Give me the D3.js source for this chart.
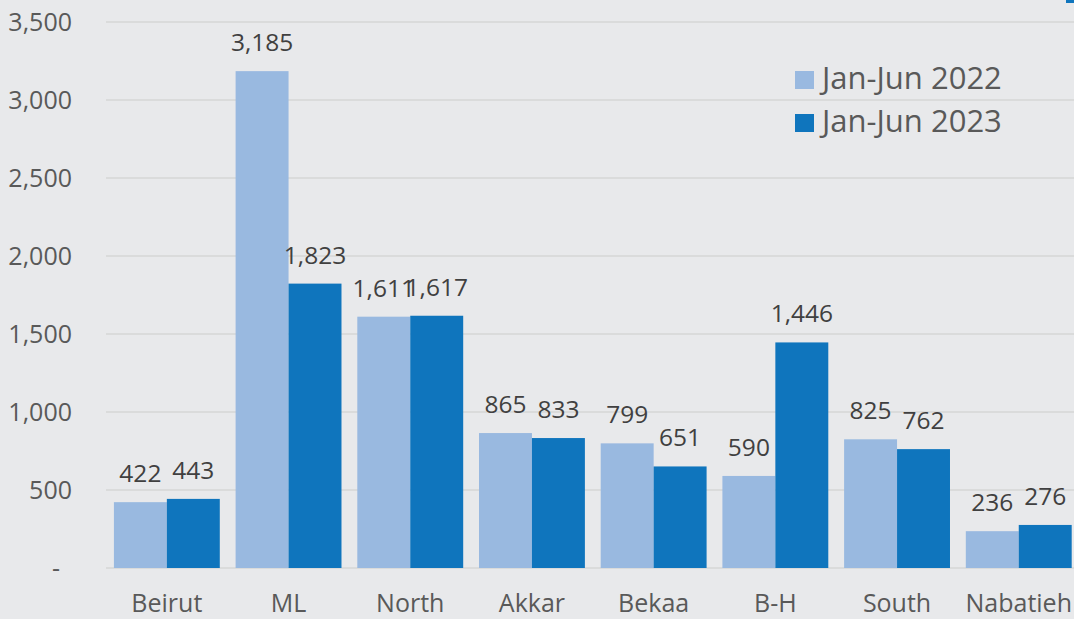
<!DOCTYPE html>
<html>
<head>
<meta charset="utf-8">
<script src="https://cdn.jsdelivr.net/npm/d3@7"></script>
<style>
  body { margin: 0; background: #e8e9eb; }
  svg { display: block; font-family: "Open Sans", "Noto Sans", sans-serif; }
</style>
</head>
<body>
<figure id="bar" style="margin:0"></figure>
<script>
const regions = ["Beirut", "ML", "North", "Akkar", "Bekaa", "B-H", "South", "Nabatieh"];
const series = ["Jan-Jun 2022", "Jan-Jun 2023"];
const values2022 = [422, 3185, 1611, 865, 799, 590, 825, 236];
const values2023 = [443, 1823, 1617, 833, 651, 1446, 762, 276];
const yTicks = [0, 500, 1000, 1500, 2000, 2500, 3000, 3500];
const colors = ["#99b9e0", "#0f75bd"];

const width = 1074, height = 619;
const plotLeft = 106, plotTop = 22, plotBottom = 568;

const svg = d3.select("figure#bar")
  .append("svg")
  .attr("width", width)
  .attr("height", height);

svg.append("rect").attr("width", width).attr("height", height).attr("fill", "#e8e9eb");

const y = d3.scaleLinear().domain([0, 3500]).range([plotBottom, plotTop]);
const x = d3.scaleBand().domain(regions).range([plotLeft, plotLeft + 121.7 * 8]).paddingInner(0.13).paddingOuter(0.065);
const xs = d3.scaleBand().domain(series).range([0, x.bandwidth()]);

// gridlines
svg.append("g")
  .selectAll("line")
  .data(yTicks)
  .enter()
  .append("line")
  .attr("x1", plotLeft).attr("x2", width)
  .attr("y1", d => y(d)).attr("y2", d => y(d))
  .attr("stroke", "#d6d6d6")
  .attr("stroke-width", 1.5);

// y axis labels
const fmt = d3.format(",");
svg.append("g")
  .selectAll("text")
  .data(yTicks)
  .enter()
  .append("text")
  .attr("x", d => d === 0 ? 56 : 72)
  .attr("y", d => y(d) + 9)
  .attr("text-anchor", d => d === 0 ? "middle" : "end")
  .attr("font-size", 25)
  .attr("fill", "#595959")
  .text(d => d === 0 ? "-" : fmt(d));

// bars
const rows = regions.map((r, i) => ({ region: r, vals: [values2022[i], values2023[i]] }));
const groups = svg.append("g")
  .selectAll("g")
  .data(rows)
  .enter()
  .append("g")
  .attr("transform", d => "translate(" + x(d.region) + ",0)");

groups.selectAll("rect")
  .data(d => d.vals.map((v, j) => ({ s: series[j], v: v, j: j })))
  .enter()
  .append("rect")
  .attr("x", d => xs(d.s))
  .attr("y", d => y(d.v))
  .attr("width", xs.bandwidth())
  .attr("height", d => plotBottom - y(d.v))
  .attr("fill", d => colors[d.j]);

// value labels (North's two labels touch in the original too)
groups.selectAll("text")
  .data(d => d.vals.map((v, j) => ({ s: series[j], v: v, j: j })))
  .enter()
  .append("text")
  .attr("x", d => xs(d.s) + xs.bandwidth() / 2)
  .attr("y", d => y(d.v) - 20)
  .attr("text-anchor", "middle")
  .attr("font-size", 24.5)
  .attr("fill", "#404040")
  .text(d => fmt(d.v));

// x labels
svg.append("g")
  .selectAll("text")
  .data(regions)
  .enter()
  .append("text")
  .attr("x", d => x(d) + x.bandwidth() / 2)
  .attr("y", 612)
  .attr("text-anchor", "middle")
  .attr("font-size", 25)
  .attr("fill", "#595959")
  .text(d => d);

// legend
const legend = svg.append("g")
  .selectAll("g")
  .data(series)
  .enter()
  .append("g")
  .attr("transform", (d, i) => "translate(795," + (71 + i * 43) + ")");
legend.append("rect").attr("width", 19).attr("height", 18).attr("fill", (d, i) => colors[i]);
legend.append("text")
  .attr("x", 27).attr("y", 18)
  .attr("font-size", 31)
  .attr("fill", "#595959")
  .text(d => d);

// small cropped mark in the top-right corner
svg.append("rect").attr("x", 1066).attr("y", 0).attr("width", 8).attr("height", 3).attr("fill", "#0f75bd");
</script>
</body>
</html>
